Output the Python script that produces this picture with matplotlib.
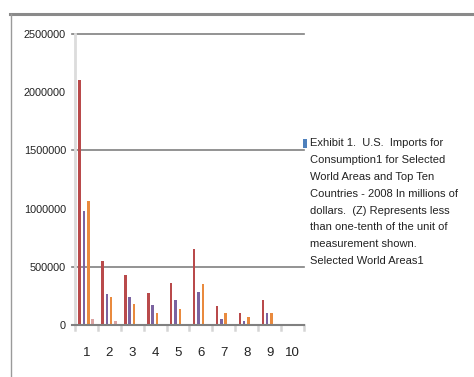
import numpy as np
import matplotlib
matplotlib.use("Agg")
from matplotlib import pyplot as plt
from matplotlib.patches import Rectangle
from matplotlib.lines import Line2D

categories = [1, 2, 3, 4, 5, 6, 7, 8, 9, 10]
# values (millions of dollars)
red_vals = [2105000, 550000, 430000, 277000, 363000, 653000, 163000, 103000, 215000, 0]
purple_vals = [979000, 266000, 240000, 172000, 215000, 283000, 52000, 34000, 103000, 0]
orange_vals = [1065000, 240000, 180000, 103000, 137000, 352000, 103000, 69000, 103000, 0]
pink_vals = [54000, 35000, 0, 0, 0, 0, 0, 0, 0, 0]
yticks = [0, 500000, 1000000, 1500000, 2000000, 2500000]
grid_at = [500000, 1500000, 2500000]
legend_text = ("Exhibit 1.  U.S.  Imports for\nConsumption1 for Selected\n"
               "World Areas and Top Ten\nCountries - 2008 In millions of\n"
               "dollars.  (Z) Represents less\nthan one-tenth of the unit of\n"
               "measurement shown.\nSelected World Areas1")

fam = ['Liberation Sans', 'DejaVu Sans']

fig = plt.figure(figsize=(4.74, 3.77), dpi=100)
ax = fig.add_axes([75/474, 1-325/377, 229/474, 291/377])

x = np.array(categories, dtype=float)
w = 0.11
series = [(red_vals, '#b94a4b', -0.30), (purple_vals, '#7b63a0', -0.11),
          (orange_vals, '#e98a3e', 0.08), (pink_vals, '#dba3a2', 0.27)]
for vals, col, off in series:
    ax.bar(x + off, vals, width=w, color=col, edgecolor='none', zorder=3)

ax.set_xlim(0.5, 10.5)
ax.set_ylim(0, 2500000)
ax.set_yticks(yticks)
ax.set_yticklabels([str(v) for v in yticks], family=fam, fontsize=7.8, color='#222222')
ax.set_xticks(x)
ax.set_xticklabels([str(c) for c in categories], fontsize=9.5, color='#222222', family=fam)
ax.tick_params(axis='y', length=0, pad=6.5)
ax.tick_params(axis='x', length=0, pad=16)

for sp in ['top', 'right', 'bottom']:
    ax.spines[sp].set_visible(False)
ax.spines['left'].set_color('#dcdcdc')
ax.spines['left'].set_linewidth(2)

yt = ax.get_yaxis_transform()
for g in grid_at:
    ax.plot([-0.015, 1.0], [g, g], color='#808080', lw=1.2, transform=yt, clip_on=False, zorder=2)
ax.plot([-0.015, 1.0], [0, 0], color='#808080', lw=1.5, transform=yt, clip_on=False, zorder=4)

# minor marks between categories below the axis
xt = ax.get_xaxis_transform()
for b in np.arange(0.5, 11.0, 1.0):
    ax.plot([b, b], [0, -0.018], color='#d5d5d5', lw=1.8, transform=xt, clip_on=False)

# legend: single entry, marker aligned with first line
fig.add_artist(Rectangle((303/474, 1-148/377), 4/474, 9/377, transform=fig.transFigure,
                         facecolor='#4f81bd', edgecolor='none'))
fig.text(310/474, 1-138/377, legend_text, ha='left', va='top', family=fam, fontsize=8,
         linespacing=1.86, color='#222222')

# chart box edges
fig.add_artist(Line2D([10/474, 1], [1-13.5/377, 1-13.5/377], color='#8a8a8a', lw=2.2))
fig.add_artist(Line2D([10.5/474, 10.5/474], [0, 1-13.5/377], color='#9a9a9a', lw=1))

fig.savefig('out.png', dpi=100)
